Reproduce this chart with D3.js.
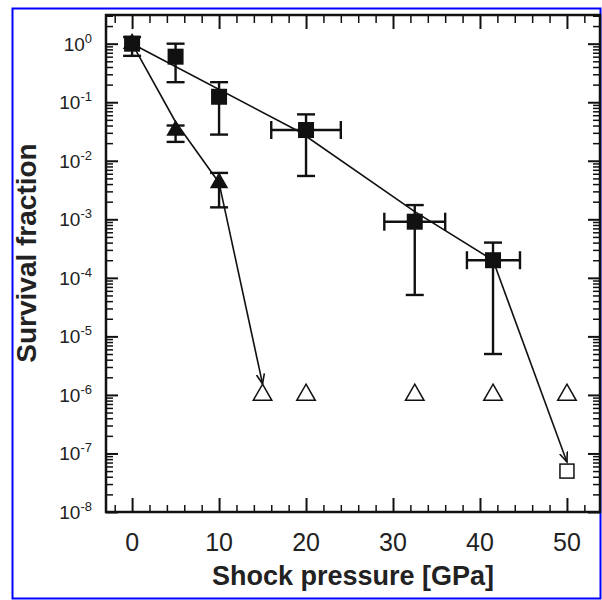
<!DOCTYPE html>
<html>
<head>
<meta charset="utf-8">
<script src="https://cdn.jsdelivr.net/npm/d3@7"></script>
<style>
  body { margin: 0; background: #fff; }
  svg { display: block; font-family: "Liberation Sans", Arial, sans-serif; }
</style>
</head>
<body>
<div id="graphic_area"></div>
<script>
// survival fraction vs shock pressure, log y axis

// filled squares with error bars
const sqPressure = [0, 5, 10, 20, 32.5, 41.5];
const sqSurvival = [1.0, 0.6, 0.124, 0.0335, 9.1e-4, 2.0e-4];
const sqSurvLo = [0.62, 0.22, 0.028, 0.0055, 5.1e-5, 5.0e-6];
const sqSurvHi = [1.3, 1.0, 0.22, 0.062, 1.75e-3, 4.0e-4];
const sqPresLo = [null, null, null, 16, 29, 38.5];
const sqPresHi = [null, null, null, 24, 36, 44.6];

// filled triangles with error bars
const triPressure = [0, 5, 10];
const triSurvival = [1.0, 0.033, 0.0042];
const triSurvLo = [null, 0.021, 0.0016];
const triSurvHi = [null, 0.04, 0.0062];

// connecting lines
const sqLineP = [0, 19.3, 32.5, 41.5];
const sqLineS = [1.0, 0.031, 1.35e-3, 2.0e-4];
const triLineP = [0, 5, 10];
const triLineS = [1.0, 0.046, 0.0042];

// detection limits (open symbols)
const openTriP = [15, 20, 32.5, 41.5, 50];
const openTriS = [1e-6, 1e-6, 1e-6, 1e-6, 1e-6];
const openSqP = [50];
const openSqS = [5e-8];

// arrows: from last filled point to open symbol
const arrowFromP = [10, 41.5];
const arrowFromS = [0.0042, 2.0e-4];
const arrowToP = [15, 50];
const arrowToS = [1e-6, 5e-8];
const arrowToShape = ["triangle", "square"];

const xTicks = [0, 10, 20, 30, 40, 50];
const xMinor = d3.range(-2, 54, 2).filter(d => d % 10 != 0);
const yExps = [0, -1, -2, -3, -4, -5, -6, -7, -8];

const width = 602, height = 600;
const mLeft = 106, mRight = 600, mTop = 15, mBottom = 512;

let svg = d3.select("#graphic_area").append("svg")
  .attr("width", width)
  .attr("height", height);

// blue outer frame
svg.append("rect")
  .attr("x", 12.5).attr("y", 8.5)
  .attr("width", 588).attr("height", 590)
  .attr("fill", "none")
  .attr("stroke", "#0000ff")
  .attr("stroke-width", 2);

let x = d3.scaleLinear().domain([-3, 53.8]).range([mLeft, mRight]);
let y = d3.scaleLog().domain([1e-8, Math.pow(10, 0.49)]).range([mBottom, mTop]);

let yMajor = yExps.map(e => Math.pow(10, e));
let yMinor = [];
for (let e = -8; e <= 0; e++) {
  for (let k = 2; k <= 9; k++) {
    let v = k * Math.pow(10, e);
    if (v < y.domain()[1]) yMinor.push(v);
  }
}

function tickAxis(axis, transform, w) {
  let g = svg.append("g")
    .attr("transform", transform)
    .call(axis);
  g.select(".domain").remove();
  g.selectAll("text").remove();
  g.selectAll("line").attr("stroke", "#111").attr("stroke-width", w);
  return g;
}

// ticks point inward on all four sides
tickAxis(d3.axisBottom(x).tickValues(xTicks).tickSize(-14), `translate(0,${mBottom})`, 2);
tickAxis(d3.axisBottom(x).tickValues(xMinor).tickSize(-7), `translate(0,${mBottom})`, 1.5);
tickAxis(d3.axisTop(x).tickValues(xTicks).tickSize(-14), `translate(0,${mTop})`, 2);
tickAxis(d3.axisTop(x).tickValues(xMinor).tickSize(-8), `translate(0,${mTop})`, 1.5);
tickAxis(d3.axisLeft(y).tickValues(yMajor).tickSize(-12), `translate(${mLeft},0)`, 2);
tickAxis(d3.axisLeft(y).tickValues(yMinor).tickSize(-7), `translate(${mLeft},0)`, 1.5);
tickAxis(d3.axisRight(y).tickValues(yMajor).tickSize(-12), `translate(${mRight},0)`, 2);
tickAxis(d3.axisRight(y).tickValues(yMinor).tickSize(-7), `translate(${mRight},0)`, 1.5);

// plot frame
svg.append("rect")
  .attr("x", mLeft).attr("y", mTop)
  .attr("width", mRight - mLeft).attr("height", mBottom - mTop)
  .attr("fill", "none")
  .attr("stroke", "#111")
  .attr("stroke-width", 2.5);

// tick labels
svg.append("g").selectAll("text")
  .data(xTicks)
  .join("text")
  .attr("x", d => x(d))
  .attr("y", 551)
  .attr("text-anchor", "middle")
  .attr("font-size", 25)
  .attr("fill", "#222")
  .text(d => d);

let yl = svg.append("g").selectAll("text")
  .data(yExps)
  .join("text")
  .attr("x", 92)
  .attr("y", d => y(Math.pow(10, d)) + 7)
  .attr("text-anchor", "end")
  .attr("font-size", 19)
  .attr("fill", "#222");
yl.append("tspan").text("10");
yl.append("tspan")
  .attr("dy", -8)
  .attr("font-size", 13)
  .text(d => d);

// axis titles
svg.append("text")
  .attr("x", (mLeft + mRight) / 2)
  .attr("y", 585)
  .attr("text-anchor", "middle")
  .attr("font-size", 27)
  .attr("font-weight", "bold")
  .attr("fill", "#222")
  .text("Shock pressure [GPa]");

svg.append("text")
  .attr("transform", "translate(36,253) rotate(-90)")
  .attr("text-anchor", "middle")
  .attr("font-size", 28)
  .attr("font-weight", "bold")
  .attr("fill", "#222")
  .text("Survival fraction");

let line = d3.line()
  .x(d => x(d[0]))
  .y(d => y(d[1]));

svg.append("path")
  .datum(sqLineP.map((p, i) => [p, sqLineS[i]]))
  .attr("d", line)
  .attr("fill", "none")
  .attr("stroke", "#111")
  .attr("stroke-width", 1.6);

svg.append("path")
  .datum(triLineP.map((p, i) => [p, triLineS[i]]))
  .attr("d", line)
  .attr("fill", "none")
  .attr("stroke", "#111")
  .attr("stroke-width", 1.6);

// arrow marker (open V)
svg.append("defs").append("marker")
  .attr("id", "arrowhead")
  .attr("viewBox", "-10 -6 12 12")
  .attr("refX", 0).attr("refY", 0)
  .attr("markerWidth", 12).attr("markerHeight", 12)
  .attr("markerUnits", "userSpaceOnUse")
  .attr("orient", "auto")
  .append("path")
  .attr("d", "M-10,-4 L0,0 L-10,4")
  .attr("fill", "none")
  .attr("stroke", "#111")
  .attr("stroke-width", 1.6);

const triSize = 148; // triangle height ~16px
const sqSize = 16;

arrowFromP.forEach((p, i) => {
  let x1 = x(p), y1 = y(arrowFromS[i]);
  let x2 = x(arrowToP[i]);
  let off = arrowToShape[i] == "triangle" ? 11 : sqSize / 2 + 1;
  let y2 = y(arrowToS[i]) - off;
  svg.append("line")
    .attr("x1", x1).attr("y1", y1)
    .attr("x2", x2).attr("y2", y2)
    .attr("stroke", "#111")
    .attr("stroke-width", 1.6)
    .attr("marker-end", "url(#arrowhead)");
});

// error bars
function errorBars(P, S, lo, hi, pLo, pHi) {
  let g = svg.append("g").attr("stroke", "#111").attr("stroke-width", 2.4);
  P.forEach((p, i) => {
    let cx = x(p), cy = y(S[i]);
    if (lo[i] != null) {
      g.append("line").attr("x1", cx).attr("x2", cx)
        .attr("y1", y(lo[i])).attr("y2", y(hi[i]));
      [lo[i], hi[i]].forEach(v => {
        g.append("line").attr("x1", cx - 9).attr("x2", cx + 9)
          .attr("y1", y(v)).attr("y2", y(v));
      });
    }
    if (pLo && pLo[i] != null) {
      g.append("line").attr("y1", cy).attr("y2", cy)
        .attr("x1", x(pLo[i])).attr("x2", x(pHi[i]));
      [pLo[i], pHi[i]].forEach(v => {
        g.append("line").attr("y1", cy - 9).attr("y2", cy + 9)
          .attr("x1", x(v)).attr("x2", x(v));
      });
    }
  });
}

errorBars(triPressure, triSurvival, triSurvLo, triSurvHi, null, null);
errorBars(sqPressure, sqSurvival, sqSurvLo, sqSurvHi, sqPresLo, sqPresHi);

// filled triangles
svg.append("g").selectAll("path")
  .data(triPressure.map((p, i) => [p, triSurvival[i]]))
  .join("path")
  .attr("transform", d => `translate(${x(d[0])},${y(d[1])})`)
  .attr("d", d3.symbol(d3.symbolTriangle, triSize))
  .attr("fill", "#111");

// filled squares
svg.append("g").selectAll("rect")
  .data(sqPressure.map((p, i) => [p, sqSurvival[i]]))
  .join("rect")
  .attr("x", d => x(d[0]) - sqSize / 2)
  .attr("y", d => y(d[1]) - sqSize / 2)
  .attr("width", sqSize).attr("height", sqSize)
  .attr("fill", "#111");

// open triangles at detection limit
svg.append("g").selectAll("path")
  .data(openTriP.map((p, i) => [p, openTriS[i]]))
  .join("path")
  .attr("transform", d => `translate(${x(d[0])},${y(d[1])})`)
  .attr("d", d3.symbol(d3.symbolTriangle, triSize))
  .attr("fill", "#fff")
  .attr("stroke", "#111")
  .attr("stroke-width", 1.5);

// open square
svg.append("g").selectAll("rect")
  .data(openSqP.map((p, i) => [p, openSqS[i]]))
  .join("rect")
  .attr("x", d => x(d[0]) - 7)
  .attr("y", d => y(d[1]) - 7)
  .attr("width", 14).attr("height", 14)
  .attr("fill", "#fff")
  .attr("stroke", "#111")
  .attr("stroke-width", 1.5);
</script>
</body>
</html>
